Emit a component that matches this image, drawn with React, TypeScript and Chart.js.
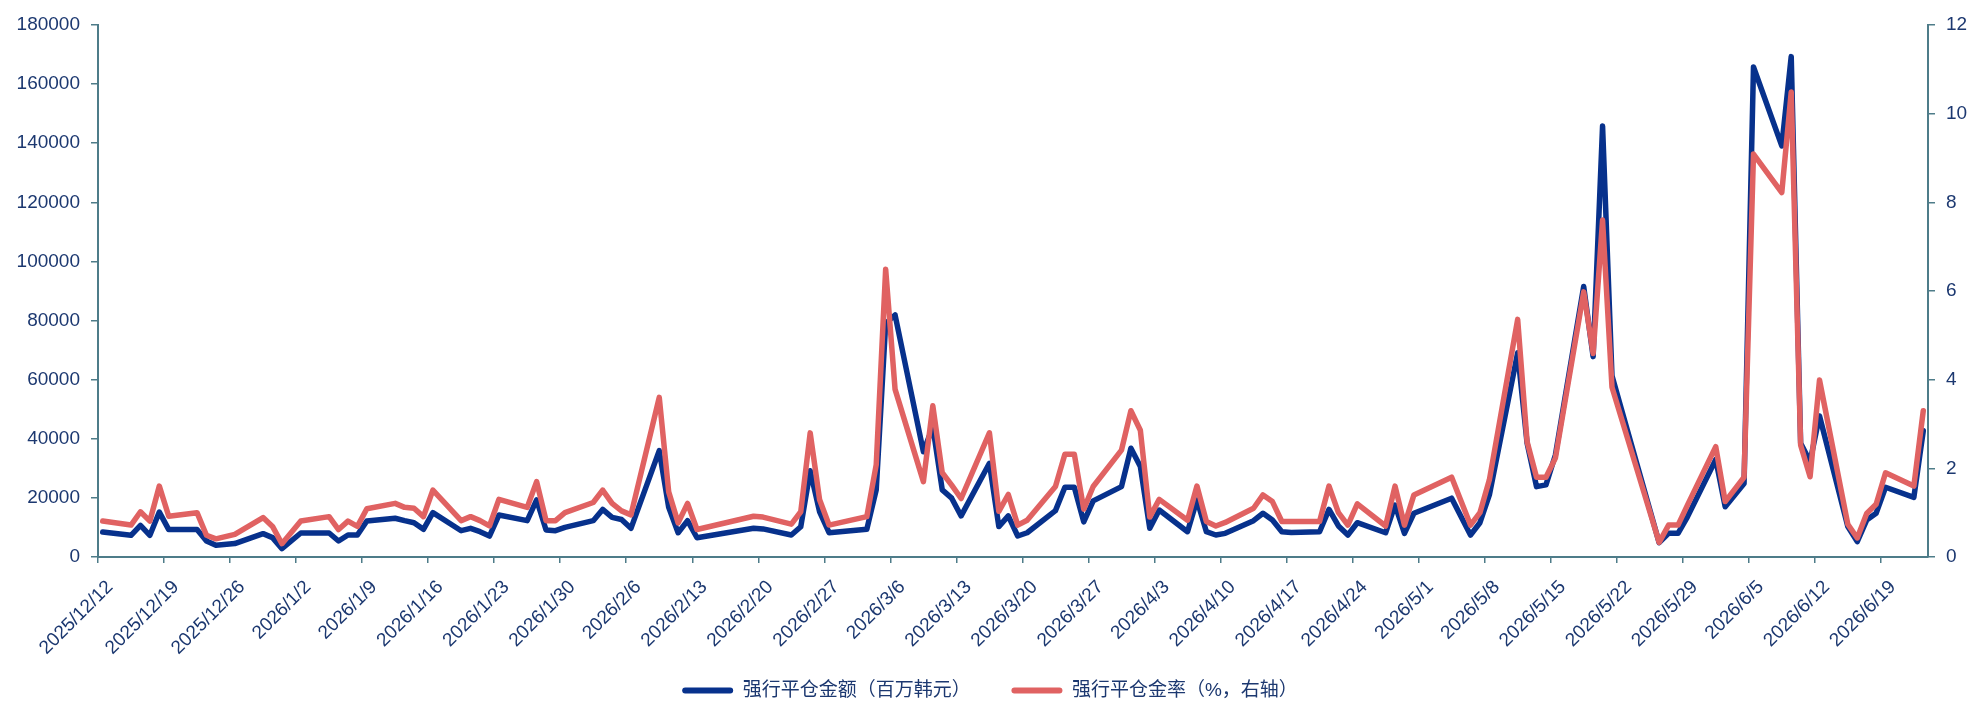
// 强行平仓金额 / 强行平仓金率 折线图（双轴），Chart.js 直接画在 canvas 上。
// 横轴按日历日排布（周末、假日留空，折线直接连过去），刻度每 7 天一个。
import { useEffect, useRef } from "react";
import { Chart, registerables, type ChartConfiguration } from "chart.js";

Chart.register(...registerables);

// 交易日
const tradeDates = [
  "2025/12/12", "2025/12/15", "2025/12/16", "2025/12/17", "2025/12/18", "2025/12/19",
  "2025/12/22", "2025/12/23", "2025/12/24", "2025/12/26",
  "2025/12/29", "2025/12/30", "2025/12/31",
  "2026/1/2",
  "2026/1/5", "2026/1/6", "2026/1/7", "2026/1/8", "2026/1/9",
  "2026/1/12", "2026/1/13", "2026/1/14", "2026/1/15", "2026/1/16",
  "2026/1/19", "2026/1/20", "2026/1/21", "2026/1/22", "2026/1/23",
  "2026/1/26", "2026/1/27", "2026/1/28", "2026/1/29", "2026/1/30",
  "2026/2/2", "2026/2/3", "2026/2/4", "2026/2/5", "2026/2/6",
  "2026/2/9", "2026/2/10", "2026/2/11", "2026/2/12", "2026/2/13",
  "2026/2/19", "2026/2/20",
  "2026/2/23", "2026/2/24", "2026/2/25", "2026/2/26", "2026/2/27",
  "2026/3/3", "2026/3/4", "2026/3/5", "2026/3/6",
  "2026/3/9", "2026/3/10", "2026/3/11", "2026/3/12", "2026/3/13",
  "2026/3/16", "2026/3/17", "2026/3/18", "2026/3/19", "2026/3/20",
  "2026/3/23", "2026/3/24", "2026/3/25", "2026/3/26", "2026/3/27",
  "2026/3/30", "2026/3/31", "2026/4/1", "2026/4/2", "2026/4/3",
  "2026/4/6", "2026/4/7", "2026/4/8", "2026/4/9", "2026/4/10",
  "2026/4/13", "2026/4/14", "2026/4/15", "2026/4/16", "2026/4/17",
  "2026/4/20", "2026/4/21", "2026/4/22", "2026/4/23", "2026/4/24",
  "2026/4/27", "2026/4/28", "2026/4/29", "2026/4/30",
  "2026/5/4", "2026/5/6", "2026/5/7", "2026/5/8",
  "2026/5/11", "2026/5/12", "2026/5/13", "2026/5/14", "2026/5/15",
  "2026/5/18", "2026/5/19", "2026/5/20", "2026/5/21", "2026/5/22",
  "2026/5/26", "2026/5/27", "2026/5/28", "2026/5/29",
  "2026/6/1", "2026/6/2", "2026/6/4", "2026/6/5",
  "2026/6/8", "2026/6/9", "2026/6/10", "2026/6/11", "2026/6/12",
  "2026/6/15", "2026/6/16", "2026/6/17", "2026/6/18", "2026/6/19",
  "2026/6/22", "2026/6/23",
];

// 强行平仓金额（百万韩元）
const forcedAmount = [
  8460, 7340, 10700, 7340, 15200, 9270,
  9270, 5410, 3950, 4530,
  7900, 6560, 2840,
  8120,
  8120, 5410, 7440, 7440, 12200,
  13100, 12300, 11600, 9370, 15000,
  8900, 9700, 8570, 7100, 14200,
  12300, 19300, 9140, 8900, 10000,
  12300, 16100, 13400, 12700, 9700,
  36000, 16800, 8200, 12300, 6500,
  9700, 9500,
  7440, 10250, 29200, 15300, 8220,
  9370, 22700, 79000, 81900,
  35600, 44100, 22700, 19900, 13900,
  31700, 10300, 13900, 7100, 8200,
  15700, 23600, 23600, 11900, 19000,
  23800, 36800, 30600, 9700, 15900,
  8560, 19300, 8560, 7440, 8000,
  12300, 14800, 12500, 8560, 8300,
  8560, 16100, 10500, 7440, 11600,
  8200, 17600, 8000, 14800,
  19900, 7440, 11600, 21000,
  69100, 38500, 23800, 24400, 34500,
  91500, 67800, 145800, 61300, 50000,
  4850, 8000, 8000, 13600,
  33000, 17000, 24900, 165800,
  139100, 169300, 38500, 32300, 47700,
  10300, 5200, 12500, 14800, 23600,
  20200, 42700,
];

// 强行平仓金率（%，右轴）
const forcedRate = [
  0.81, 0.72, 1.02, 0.81, 1.6, 0.92,
  1.0, 0.49, 0.41, 0.51,
  0.89, 0.69, 0.3,
  0.81,
  0.91, 0.62, 0.81, 0.69, 1.09,
  1.21, 1.12, 1.1, 0.91, 1.51,
  0.82, 0.91, 0.82, 0.7, 1.3,
  1.12, 1.7, 0.82, 0.82, 1.0,
  1.23, 1.51, 1.21, 1.04, 0.95,
  3.6, 1.47, 0.77, 1.21, 0.62,
  0.92, 0.9,
  0.74, 1.02, 2.8, 1.29, 0.72,
  0.91, 2.08, 6.49, 3.78,
  1.7, 3.41, 1.9, 1.62, 1.32,
  2.8, 1.03, 1.41, 0.72, 0.83,
  1.59, 2.32, 2.32, 1.08, 1.59,
  2.41, 3.3, 2.86, 0.9, 1.3,
  0.83, 1.6, 0.8, 0.7, 0.78,
  1.1, 1.4, 1.25, 0.8, 0.8,
  0.8, 1.6, 1.0, 0.72, 1.2,
  0.7, 1.6, 0.72, 1.4,
  1.8, 0.72, 1.0, 1.74,
  5.36, 2.6, 1.8, 1.8, 2.23,
  5.98, 4.59, 7.6, 3.83, 3.13,
  0.33, 0.72, 0.72, 1.17,
  2.49, 1.25, 1.8, 9.09,
  8.22, 10.49, 2.52, 1.81, 3.99,
  0.74, 0.43, 0.98, 1.19, 1.9,
  1.6, 3.3,
];

// 横轴刻度（每周五）
const weekTicks = [
  "2025/12/12", "2025/12/19", "2025/12/26", "2026/1/2", "2026/1/9", "2026/1/16",
  "2026/1/23", "2026/1/30", "2026/2/6", "2026/2/13", "2026/2/20", "2026/2/27",
  "2026/3/6", "2026/3/13", "2026/3/20", "2026/3/27", "2026/4/3", "2026/4/10",
  "2026/4/17", "2026/4/24", "2026/5/1", "2026/5/8", "2026/5/15", "2026/5/22",
  "2026/5/29", "2026/6/5", "2026/6/12", "2026/6/19",
];
const axisEnd = "2026/6/24";

const seriesLabels = ["强行平仓金额（百万韩元）", "强行平仓金率（%，右轴）"];

const BLUE = "#07318C";
const RED = "#E06262";
const AXIS = "#4E7C89";
const TEXT = "#1C3870";
const FONT = '"Liberation Sans", Arial, sans-serif';
const CJK_FONT = '"Liberation Sans", "Noto Sans CJK SC", sans-serif';

const START = Date.UTC(2025, 11, 12);
function dayIndex(s: string) {
  const [y, m, d] = s.split("/").map(Number);
  return Math.round((Date.UTC(y, m - 1, d) - START) / 86400000);
}

// Excel 的日期轴把每个点放在当天格子的中间
const toPoints = (values: number[]) =>
  values.map((v, i) => ({ x: dayIndex(tradeDates[i]) + 0.5, y: v }));

function buildConfig(): ChartConfiguration<"line"> {
  const axisGrid = {
    display: true,
    drawOnChartArea: false,
    drawTicks: true,
    color: AXIS,
    lineWidth: 1.5,
  };
  const axisBorder = { display: true, color: AXIS, width: 2 };

  return {
    type: "line",
    data: {
      datasets: [
        {
          label: seriesLabels[0],
          data: toPoints(forcedAmount),
          yAxisID: "y",
          borderColor: BLUE,
          backgroundColor: BLUE,
          borderWidth: 5.5,
          pointRadius: 0,
          borderJoinStyle: "round",
          borderCapStyle: "round",
          order: 1,
        },
        {
          label: seriesLabels[1],
          data: toPoints(forcedRate),
          yAxisID: "y1",
          borderColor: RED,
          backgroundColor: RED,
          borderWidth: 5.5,
          pointRadius: 0,
          borderJoinStyle: "round",
          borderCapStyle: "round",
          order: 0, // 红线压在蓝线上面
        },
      ],
    },
    options: {
      animation: false,
      responsive: false,
      layout: { padding: { top: 25, left: 0, right: 0, bottom: 0 } },
      plugins: {
        tooltip: { enabled: false },
        legend: {
          position: "bottom",
          labels: {
            boxWidth: 51,
            boxHeight: 6,
            useBorderRadius: true,
            borderRadius: 3,
            padding: 26,
            color: TEXT,
            font: { family: CJK_FONT, size: 19 },
            sort: (a, b) => (a.datasetIndex ?? 0) - (b.datasetIndex ?? 0),
            // 第一项后面补一点空白，拉开两项的间距（竖直方向的 padding 不能再大）
            generateLabels: (chart) =>
              Chart.defaults.plugins.legend.labels
                .generateLabels(chart)
                .map((l) => ({
                  ...l,
                  text: l.datasetIndex === 0 ? l.text + "\u3000 " : l.text,
                  lineWidth: 0,
                  fillStyle: l.strokeStyle,
                })),
          },
        },
      },
      scales: {
        x: {
          type: "linear",
          min: 0,
          max: dayIndex(axisEnd),
          afterBuildTicks: (scale) => {
            scale.ticks = weekTicks.map((s) => ({ value: dayIndex(s) }));
          },
          afterFit: (scale) => {
            scale.height = 98;
          },
          grid: { ...axisGrid, tickLength: 6 },
          border: axisBorder,
          ticks: {
            autoSkip: false,
            maxRotation: 45,
            minRotation: 45,
            padding: 13,
            labelOffset: 12,
            color: TEXT,
            font: { family: FONT, size: 19 },
            callback: (_v, i) => weekTicks[i],
          },
        },
        y: {
          position: "left",
          min: 0,
          max: 180000,
          afterFit: (scale) => {
            scale.width = 98;
          },
          grid: { ...axisGrid, tickLength: 7 },
          border: axisBorder,
          ticks: {
            stepSize: 20000,
            padding: 11,
            color: TEXT,
            font: { family: FONT, size: 19 },
            callback: (v) => String(v),
          },
        },
        y1: {
          position: "right",
          min: 0,
          max: 12,
          afterFit: (scale) => {
            scale.width = 52;
          },
          grid: { ...axisGrid, tickLength: 7 },
          border: axisBorder,
          ticks: {
            stepSize: 2,
            padding: 11,
            color: TEXT,
            font: { family: FONT, size: 19 },
            callback: (v) => String(v),
          },
        },
      },
    },
  };
}

function ForcedLiquidationChart() {
  const canvasRef = useRef<HTMLCanvasElement>(null);

  useEffect(() => {
    const el = canvasRef.current;
    if (!el) return;
    const chart = new Chart(el, buildConfig());
    return () => chart.destroy();
  }, []);

  return (
    <canvas
      ref={canvasRef}
      width={1980}
      height={710}
      style={{ display: "block", width: 1980, height: 710 }}
    />
  );
}

export default function App() {
  return (
    <div style={{ position: "fixed", left: 0, top: 0, width: 1980, height: 710, background: "#fff" }}>
      <ForcedLiquidationChart />
    </div>
  );
}
